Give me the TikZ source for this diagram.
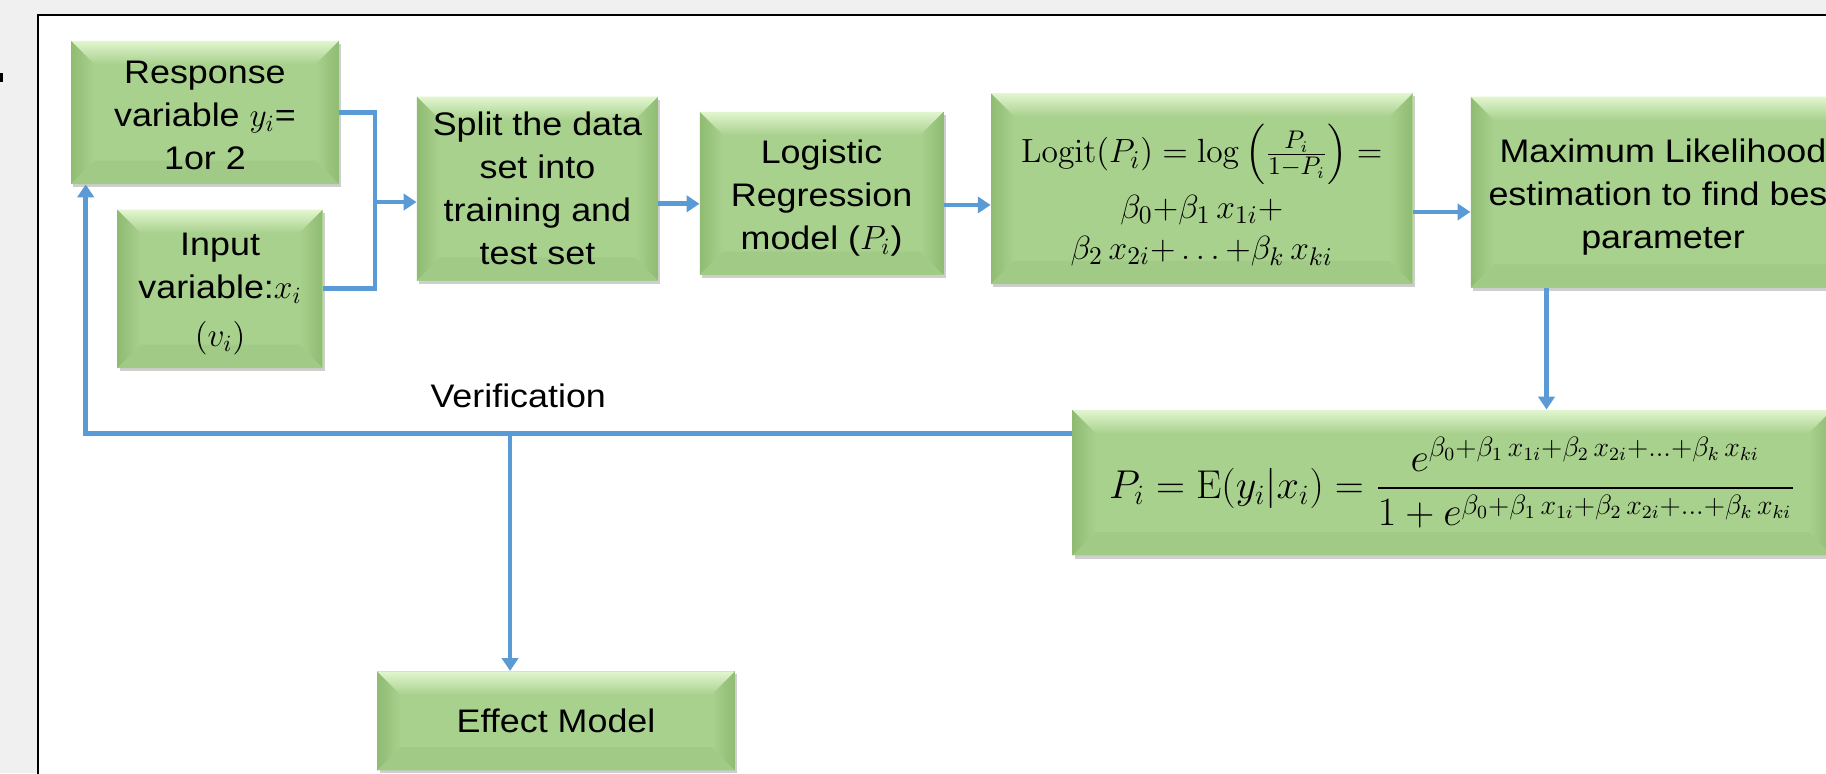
\documentclass[tikz,border=0pt]{standalone}
\usepackage{amsmath}
\usepackage[no-math]{fontspec}
\setmainfont[FakeStretch=1.1]{Liberation Sans}
\usetikzlibrary{arrows.meta,shadows}
\definecolor{bgray}{HTML}{F0F0F0}
\definecolor{lblue}{HTML}{5B9BD5}
\definecolor{gface}{HTML}{A9D18E}
\definecolor{gtopA}{HTML}{E2F6CF}
\definecolor{gside}{HTML}{8FBB72}
\definecolor{gbot}{HTML}{A0CA85}
\newlength{\bev}
\setlength{\bev}{10pt}
\tikzset{
  gbox/.style={rectangle, fill=gface, inner sep=0pt, align=center,
    font=\fontsize{14pt}{18.5pt}\selectfont,
    drop shadow={shadow xshift=1pt, shadow yshift=-1.3pt, opacity=0.35, fill=black!55},
    path picture={
      \path (path picture bounding box.south west) coordinate (pSW)
            (path picture bounding box.north east) coordinate (pNE);
      \shade[left color=gside, right color=gface]
        (pSW) -- (pSW|-pNE) -- ([xshift=\bev,yshift=-\bev]pSW|-pNE) -- ([xshift=\bev,yshift=\bev]pSW) -- cycle;
      \shade[left color=gface, right color=gside]
        (pNE) -- (pNE|-pSW) -- ([xshift=-\bev,yshift=\bev]pNE|-pSW) -- ([xshift=-\bev,yshift=-\bev]pNE) -- cycle;
      \shade[top color=gtopA, bottom color=gface]
        (pSW|-pNE) -- (pNE) -- ([xshift=-\bev,yshift=-\bev]pNE) -- ([xshift=\bev,yshift=-\bev]pSW|-pNE) -- cycle;
      \fill[gbot]
        (pSW) -- (pNE|-pSW) -- ([xshift=-\bev,yshift=\bev]pNE|-pSW) -- ([xshift=\bev,yshift=\bev]pSW) -- cycle;
    }},
  mathbox/.style={gbox, font=\fontsize{15pt}{17.5pt}\selectfont},
  conn/.style={draw=lblue, line width=2pt},
  arr/.style={conn, -{Triangle[width=7pt,length=5.5pt]}},
  lbl/.style={inner sep=0pt, font=\fontsize{14pt}{18.5pt}\selectfont},
}
\begin{document}
\begin{tikzpicture}[x=0.5pt,y=-0.5pt]
\useasboundingbox (0,0) rectangle (1568,664);
\clip (0,0) rectangle (1568,664);
\fill[bgray] (0,0) rectangle (1568,664);
\fill[white] (33,13) rectangle (1600,700);
\draw[line width=0.8pt] (33,700) -- (33,13) -- (1600,13);
\fill[black] (0,63) rectangle (3,70);

\node[gbox, minimum width=115pt, minimum height=61.5pt] (resp) at (176,96.5)
  {\rule{0pt}{12pt}Response\\variable $y_i$=\\1or 2};
\node[gbox, minimum width=88pt, minimum height=68pt] (inp) at (189,248)
  {\rule{0pt}{14pt}Input\\variable:$x_i$\\[2pt]$(v_i)$};
\node[gbox, minimum width=103.5pt, minimum height=79pt] (split) at (461.5,162)
  {Split the data\\set into\\training and\\test set};
\node[gbox, minimum width=104.5pt, minimum height=70pt] (logi) at (705.5,166)
  {\rule{0pt}{14pt}Logistic\\Regression\\model ($P_i$)};
\node[mathbox, minimum width=181pt, minimum height=82pt] (logit) at (1032,162)
  {\rule{0pt}{22pt}$\mathrm{Logit}(P_i) = \log\left(\frac{P_i}{1-P_i}\right) =$\\[3.5pt]
   $\beta_0{+}\beta_1\,x_{1i}{+}$\\
   $\beta_2\,x_{2i}{+}\ldots{+}\beta_k\,x_{ki}$};
\node[gbox, minimum width=165pt, minimum height=82pt] (mle) at (1428,165)
  {\rule{0pt}{14.5pt}Maximum Likelihood\\estimation to find best\\parameter};
\node[mathbox, font=\fontsize{16.5pt}{20pt}\selectfont, minimum width=326pt, minimum height=62.5pt] (pbox) at (1247,414.5)
  {$P_i = \mathrm{E}(y_i|x_i) = \dfrac{e^{\beta_0+\beta_1\,x_{1i}+\beta_2\,x_{2i}+\ldots+\beta_k\,x_{ki}}}{1+e^{\beta_0+\beta_1\,x_{1i}+\beta_2\,x_{2i}+\ldots+\beta_k\,x_{ki}}}$};
\node[gbox, minimum width=153.5pt, minimum height=42.5pt] (eff) at (477.5,619)
  {Effect Model};
\node[lbl] (ver) at (445,339.5) {Verification};

\coordinate (jA) at (322,173.5);
\coordinate (yB) at (0,175);
\coordinate (yC) at (0,176);
\coordinate (yD) at (0,182);
\coordinate (xE) at (1328,0);
\coordinate (jB) at (438,372);

\draw[conn] (resp.east) -- (resp.east -| jA) -- (inp.east -| jA) -- (inp.east);
\draw[arr] (jA) -- (jA -| split.west);
\draw[arr] (split.east |- yB) -- (logi.west |- yB);
\draw[arr] (logi.east |- yC) -- (logit.west |- yC);
\draw[arr] (logit.east |- yD) -- (mle.west |- yD);
\draw[arr] (mle.south -| xE) -- (pbox.north -| xE);
\draw[arr] (pbox.west |- jB) -| ([xshift=6.5pt]resp.south west);
\draw[arr] (jB) -- (jB |- eff.north);
\end{tikzpicture}
\end{document}
